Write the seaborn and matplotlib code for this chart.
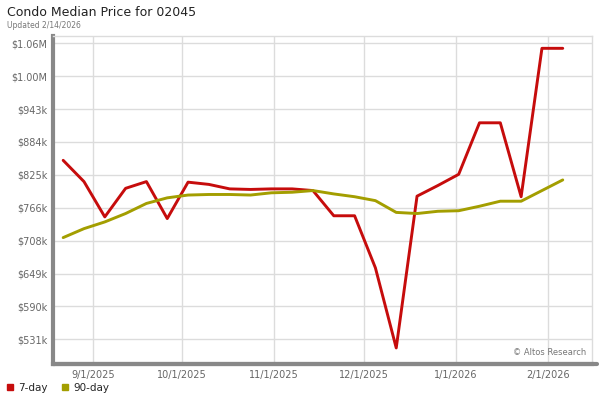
import numpy as np
import pandas as pd
import matplotlib
matplotlib.use("Agg")
import matplotlib.pyplot as plt
from matplotlib.lines import Line2D
import seaborn as sns

# ---- data ----
dates = pd.date_range("2025-08-22", periods=25, freq="7D")
day7 = [851, 813, 750, 801, 813, 747, 812, 808, 800, 799, 800, 800, 797,
        752, 752, 659, 516, 787, 806, 826, 918, 918, 786, 1051, 1051]
day90 = [713, 729, 741, 756, 774, 784, 789, 790, 790, 789, 793, 794, 797,
         791, 786, 779, 758, 756, 760, 761, 769, 778, 778, 797, 816]
series_names = ["7-day", "90-day"]
colors = ["#c60c0c", "#a39e00"]
ytick_vals = [531250, 590000, 648750, 707500, 766250, 825000, 883750, 942500, 1001250, 1060000]
ytick_labels = ["$531k", "$590k", "$649k", "$708k", "$766k", "$825k", "$884k",
                "$943k", "$1.00M", "$1.06M"]
xtick_dates = pd.to_datetime(["2025-09-01", "2025-10-01", "2025-11-01",
                              "2025-12-01", "2026-01-01", "2026-02-01"])
xtick_labels = ["9/1/2025", "10/1/2025", "11/1/2025", "12/1/2025", "1/1/2026", "2/1/2026"]
title = "Condo Median Price for 02045"
subtitle = "Updated 2/14/2026"

df = pd.concat([
    pd.DataFrame({"date": dates, "price": np.array(day7) * 1000, "series": "7-day"}),
    pd.DataFrame({"date": dates, "price": np.array(day90) * 1000, "series": "90-day"}),
])

sns.set_theme(style="white")
plt.rcParams["font.family"] = ["DejaVu Sans"]

fig = plt.figure(figsize=(6, 4), dpi=100)
ax = fig.add_axes([53/600, 1 - 364/400, (592-53)/600, (364-36)/400])

sns.lineplot(data=df, x="date", y="price", hue="series", hue_order=series_names,
             palette=colors, linewidth=2.1, legend=False, ax=ax)

ax.set_xlim(pd.Timestamp("2025-08-18 14:00"), pd.Timestamp("2026-02-15 20:00"))
ax.set_ylim(487300, 1073000)
ax.set_yticks(ytick_vals)
ax.set_yticklabels(ytick_labels)
ax.set_xticks(xtick_dates)
ax.set_xticklabels(xtick_labels)
ax.set_xlabel("")
ax.set_ylabel("")
ax.grid(True, color="#dcdcdc", linewidth=1)
ax.set_axisbelow(True)
ax.tick_params(axis="both", length=0, labelsize=7, labelcolor="#666666", pad=4)

for s in ["top", "right"]:
    ax.spines[s].set_color("#dcdcdc")
    ax.spines[s].set_linewidth(1)
ax.spines["left"].set_color("#888888")
ax.spines["left"].set_linewidth(3)
ax.spines["bottom"].set_color("#888888")
ax.spines["bottom"].set_linewidth(3)
fig.add_artist(Line2D([53/600, 597/600], [1 - 364/400, 1 - 364/400],
                      color="#888888", linewidth=3, transform=fig.transFigure))

fig.text(7/600, 1 - 13/400, title, fontsize=9, color="#222222", va="center", ha="left")
fig.text(7/600, 1 - 25/400, subtitle, fontsize=5.5, color="#777777", va="center", ha="left")
ax.text(0.99, 0.02, "\u00a9 Altos Research", transform=ax.transAxes, fontsize=6,
        color="#777777", ha="right", va="bottom")

handles = [Line2D([], [], marker="s", linestyle="none", color=c, markersize=5)
           for c in colors]
fig.legend(handles, series_names, loc="lower left", bbox_to_anchor=(-0.005, 0.0),
           ncol=2, frameon=False, fontsize=7.5, handletextpad=0.3,
           columnspacing=1.2, handlelength=1.0, borderaxespad=0.3)

fig.savefig("out.png", dpi=100)
